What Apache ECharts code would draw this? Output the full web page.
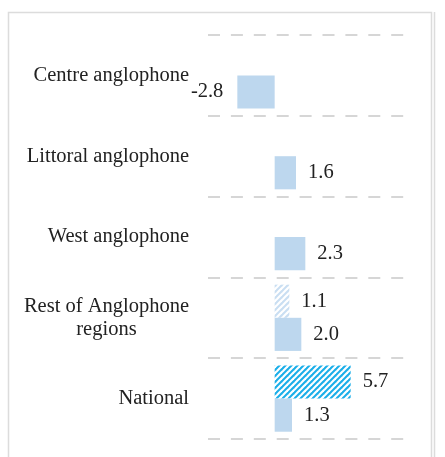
<!DOCTYPE html>
<html>
<head>
<meta charset="utf-8">
<script src="https://cdn.jsdelivr.net/npm/echarts@6/dist/echarts.min.js"></script>
<style>
html,body{margin:0;padding:0;background:#fff;}
#chart{width:445px;height:457px;}
</style>
</head>
<body>
<div id="chart"></div>
<script>
const categories = ['Centre anglophone', 'Littoral anglophone', 'West anglophone', 'Rest of Anglophone\nregions', 'National'];
const hatchedValues = [null, null, null, 1.1, 5.7];
const solidValues = [-2.8, 1.6, 2.3, 2.0, 1.3];

function makePattern(base, stripe, size, lw) {
  const c = document.createElement('canvas');
  c.width = size; c.height = size;
  const g = c.getContext('2d');
  g.fillStyle = base;
  g.fillRect(0, 0, size, size);
  g.strokeStyle = stripe;
  g.lineWidth = lw;
  g.lineCap = 'square';
  [0, size, 2 * size].forEach(function (k) {
    g.beginPath();
    g.moveTo(k - size - 1, size + 1);
    g.lineTo(k + 1, -1);
    g.stroke();
  });
  return c;
}
const patDark = makePattern('#19aee9', '#ffffff', 6, 2.2);
const patLight = makePattern('#c9def2', '#ffffff', 6, 2.2);

const font = 'Liberation Serif';
const textColor = '#222222';
const fs = 20.5;

const chart = echarts.init(document.getElementById('chart'), null, {renderer: 'canvas'});
chart.setOption({
  animation: false,
  backgroundColor: '#ffffff',
  graphic: [
    {type: 'rect', shape: {x: 8.5, y: 12.5, width: 423, height: 470}, style: {fill: 'none', stroke: '#dcdcdc', lineWidth: 1.5}, silent: true},
    {type: 'line', shape: {x1: 434.5, y1: 12, x2: 434.5, y2: 457}, style: {stroke: '#dcdcdc', lineWidth: 1.5}, silent: true}
  ],
  grid: {left: 208, right: 37, top: 35, bottom: 18, containLabel: false},
  xAxis: {
    type: 'value', min: -5, max: 10, show: false,
    splitLine: {show: false}
  },
  yAxis: {
    type: 'category',
    inverse: true,
    data: categories,
    axisLine: {show: false},
    axisTick: {show: false},
    splitLine: {show: true, lineStyle: {color: '#d6d6d6', width: 2, type: [12, 10.9]}},
    axisLabel: {
      margin: 19,
      formatter: function (v) {
        return v.split('\n').map(function (s) { return '{c|' + s + '}'; }).join('\n');
      },
      rich: {
        c: {fontFamily: font, fontSize: fs, color: textColor, align: 'center', lineHeight: 23}
      }
    }
  },
  series: [
    {
      type: 'bar',
      barGap: '0%',
      barCategoryGap: '18%',
      data: hatchedValues.map(function (v, i) {
        return {value: v, itemStyle: {color: {image: i === 4 ? patDark : patLight, repeat: 'repeat'}}};
      }),
      label: {
        show: true, position: 'right', distance: 12,
        fontFamily: font, fontSize: fs, color: textColor,
        formatter: function (p) { return p.value == null ? '' : p.value.toFixed(1); }
      }
    },
    {
      type: 'bar',
      barGap: '0%',
      barCategoryGap: '18%',
      itemStyle: {color: '#bdd7ee'},
      data: solidValues.map(function (v) {
        return {value: v, label: {position: v < 0 ? 'left' : 'right', distance: v < 0 ? 14 : 12}};
      }),
      label: {
        show: true,
        fontFamily: font, fontSize: fs, color: textColor,
        formatter: function (p) { return p.value.toFixed(1); }
      }
    }
  ]
});
</script>
</body>
</html>
